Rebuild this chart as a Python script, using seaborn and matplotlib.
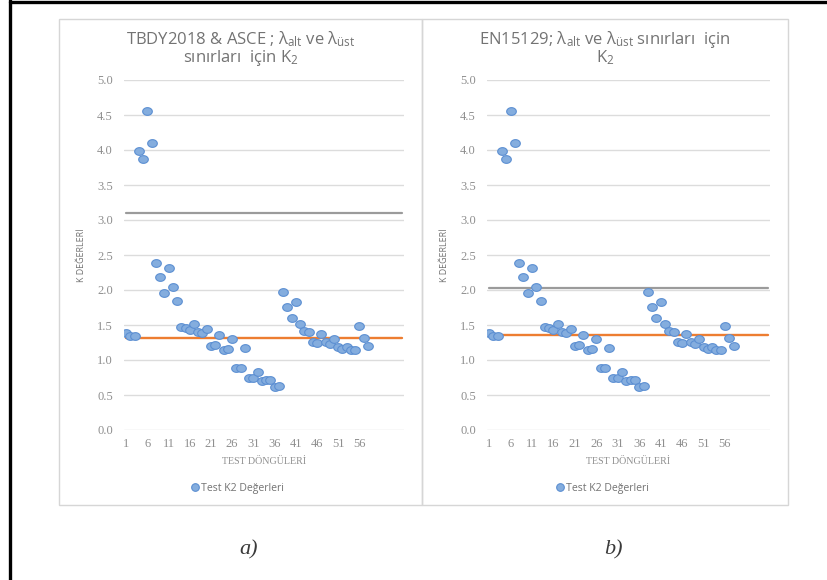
import numpy as np
import matplotlib
matplotlib.use("Agg")
import matplotlib.pyplot as plt
import seaborn as sns
from matplotlib.path import Path
from matplotlib.markers import MarkerStyle
from matplotlib.patches import Rectangle
from matplotlib.lines import Line2D

# Measured K2 value for each test cycle
k2_values = [1.38, 1.35, 1.35, 3.99, 3.87, 4.56, 4.10, 2.39, 2.18, 1.96,
             2.32, 2.05, 1.85, 1.47, 1.46, 1.43, 1.52, 1.40, 1.38, 1.45,
             1.20, 1.21, 1.36, 1.14, 1.16, 1.30, 0.88, 0.88, 1.17, 0.75,
             0.74, 0.83, 0.70, 0.72, 0.71, 0.61, 0.63, 1.97, 1.76, 1.60,
             1.83, 1.52, 1.41, 1.40, 1.26, 1.25, 1.37, 1.26, 1.23, 1.30,
             1.19, 1.16, 1.19, 1.14, 1.14, 1.49, 1.32, 1.20]
cycles = list(range(1, len(k2_values) + 1))

# Category axis length and labelled categories
n_categories = 66
limit_cycles = list(range(1, n_categories + 1))
tick_cycles = [1, 6, 11, 16, 21, 26, 31, 36, 41, 46, 51, 56]

# Lower / upper K2 limits for each code
tbdy_lower, tbdy_upper = 1.31, 3.10
en_lower, en_upper = 1.36, 2.03

y_ticks = [0.0, 0.5, 1.0, 1.5, 2.0, 2.5, 3.0, 3.5, 4.0, 4.5, 5.0]

title_a = ["TBDY2018 & ASCE ; λ$_{\\mathrm{alt}}$ ve λ$_{\\mathrm{üst}}$",
           "sınırları  için K$_2$"]
title_b = ["EN15129; λ$_{\\mathrm{alt}}$ ve λ$_{\\mathrm{üst}}$ sınırları  için",
           "K$_2$"]
x_label = "TEST DÖNGÜLERİ"
y_label = "K DEĞERLERİ"
legend_label = "Test K2 Değerleri"

sns.set_theme(style="white")
plt.rcParams["font.family"] = ["Open Sans", "DejaVu Sans"]
plt.rcParams["mathtext.fontset"] = "custom"
plt.rcParams["mathtext.rm"] = "Open Sans"
plt.rcParams["mathtext.it"] = "Open Sans:italic"

W, H = 827, 580
fig = plt.figure(figsize=(W / 100, H / 100), dpi=100)
fig.patch.set_facecolor("white")

TEXT = "#737373"
TICK = "#8f8f8f"
GRID = "#dcdcdc"
FACE = "#84ADDE"
EDGE = "#5C8FD2"
ORANGE = "#ED7D31"
GRAY = "#9b9b9b"

# slightly flattened round marker
theta = np.linspace(0, 2 * np.pi, 64)
ellipse = Path(np.column_stack([np.cos(theta), 0.8 * np.sin(theta)]), closed=True)
dot = MarkerStyle(ellipse)


def px_rect(x0, y0, x1, y1):
    return [x0 / W, 1 - y1 / H, (x1 - x0) / W, (y1 - y0) / H]


panels = [
    dict(box=(59, 19, 422, 505), axes=(124, 80, 404, 430), title=title_a,
         lower=tbdy_lower, upper=tbdy_upper, tag="a)"),
    dict(box=(422, 19, 788, 505), axes=(487, 80, 770, 430), title=title_b,
         lower=en_lower, upper=en_upper, tag="b)"),
]

for p in panels:
    bx0, by0, bx1, by1 = p["box"]
    fig.patches.append(Rectangle((bx0 / W, 1 - by1 / H), (bx1 - bx0) / W, (by1 - by0) / H,
                                 transform=fig.transFigure, fill=False,
                                 edgecolor="#d6d6d6", linewidth=1.0, zorder=0))
    ax = fig.add_axes(px_rect(*p["axes"]))
    ax.set_facecolor("none")

    sns.lineplot(x=limit_cycles, y=[p["upper"]] * n_categories, ax=ax,
                 color=GRAY, linewidth=1.6, zorder=2)
    sns.lineplot(x=limit_cycles, y=[p["lower"]] * n_categories, ax=ax,
                 color=ORANGE, linewidth=1.7, zorder=2)
    sns.scatterplot(x=cycles, y=k2_values, ax=ax, marker=dot, s=48,
                    color=FACE, edgecolor=EDGE, linewidth=0.8, zorder=3)

    ax.set_xlim(0.5, n_categories + 0.5)
    ax.set_ylim(0, 5)
    ax.set_yticks(y_ticks)
    ax.set_yticklabels([f"{v:.1f}" for v in y_ticks])
    ax.set_xticks(tick_cycles)
    ax.set_xticklabels([str(c) for c in tick_cycles])
    ax.grid(axis="y", color=GRID, linewidth=1.0)
    ax.grid(axis="x", visible=False)
    ax.set_axisbelow(True)
    for s in ax.spines.values():
        s.set_visible(False)
    ax.tick_params(axis="both", length=0, colors=TICK)
    ax.tick_params(axis="y", pad=8)
    ax.tick_params(axis="x", pad=6)
    for lab in ax.get_xticklabels() + ax.get_yticklabels():
        lab.set_family(["Liberation Serif", "DejaVu Serif"])
        lab.set_fontsize(9)

    ax.set_xlabel(x_label, fontsize=7.2, color=TICK, family=["Liberation Serif", "DejaVu Serif"],
                  labelpad=5)
    ax.set_ylabel(y_label, fontsize=6.4, color=TEXT, labelpad=8)

    # two-line chart title, each line placed on its own baseline row
    cx = (bx0 + bx1) / 2
    for line, ypx in zip(p["title"], (39, 58)):
        fig.text(cx / W, 1 - ypx / H, line, ha="center", va="center",
                 fontsize=12, color=TEXT)

    handle = Line2D([], [], linestyle="none", marker="o", markersize=5.5,
                    markerfacecolor=FACE, markeredgecolor=EDGE, markeredgewidth=0.8)
    fig.legend([handle], [legend_label], loc="center",
               bbox_to_anchor=((cx - 3) / W, 1 - 488 / H), frameon=False,
               fontsize=7.6, labelcolor=TEXT, handletextpad=0.2,
               handlelength=0.8, borderaxespad=0)

    fig.text((cx + 8) / W, 1 - 550 / H, p["tag"], ha="center", va="center",
             fontsize=16, style="italic", color="#3a3a3a",
             family=["Liberation Serif", "DejaVu Serif"])

# outer frame along the top and left edges
fig.add_artist(Line2D([9.5 / W, 9.5 / W], [0, 1], transform=fig.transFigure,
                      color="black", linewidth=2.4))
fig.add_artist(Line2D([9.5 / W, 1], [1 - 1.5 / H, 1 - 1.5 / H], transform=fig.transFigure,
                      color="black", linewidth=2.4))

fig.savefig("out.png", dpi=100, facecolor="white")
